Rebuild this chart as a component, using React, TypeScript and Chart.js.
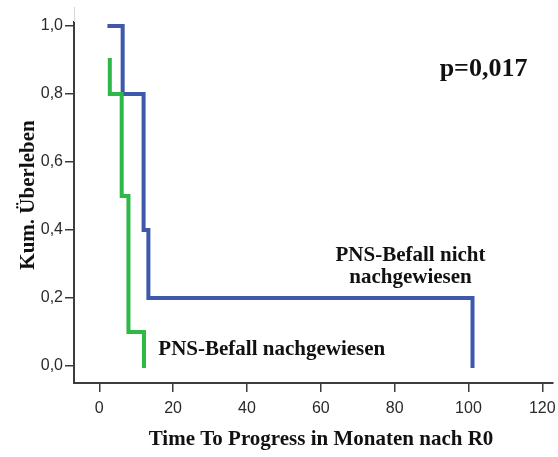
import React, { useEffect, useRef } from "react";
import { Chart, registerables } from "chart.js";

Chart.register(...registerables);

// Axis ticks
const xTickValues = [0, 20, 40, 60, 80, 100, 120];
const yTickValues = [0, 0.2, 0.4, 0.6, 0.8, 1.0];
const yTickLabels = ["0,0", "0,2", "0,4", "0,6", "0,8", "1,0"];

// Kaplan-Meier steps: time of each step (months) and survival after it
const notDetectedTimes = [2.75, 6.33, 12.0, 13.3, 101.1];
const notDetectedSurvival = [1.0, 0.8, 0.4, 0.2, 0.0];
const detectedTimes = [2.85, 2.85, 6.07, 7.9, 12.1];
const detectedSurvival = [0.9, 0.8, 0.5, 0.1, 0.0];

const groupLabels = ["PNS-Befall nachgewiesen", "PNS-Befall nicht nachgewiesen"];
const notDetectedLabelLines = ["PNS-Befall nicht", "nachgewiesen"];
const pValueText = "p=0,017";
const xAxisTitle = "Time To Progress in Monaten nach R0";
const yAxisTitle = "Kum. Überleben";

const BLUE = "#3e58ac";
const GREEN = "#2eb848";
const AXIS = "#3c3c3c";
const SERIF = "'Liberation Serif', 'Times New Roman', serif";
const SANS = "'Liberation Sans', Arial, sans-serif";

const toPoints = (xs: number[], ys: number[]) => xs.map((x, i) => ({ x, y: ys[i] }));

const annotations = {
  id: "kmAnnotations",
  afterDatasetsDraw(chart: any) {
    const { ctx, scales, chartArea } = chart;
    const xs = scales.x;
    const ys = scales.y;
    ctx.save();

    // faint extension of the y axis above the plot
    ctx.strokeStyle = "#d8d8d8";
    ctx.lineWidth = 1;
    ctx.beginPath();
    ctx.moveTo(chartArea.left + 0.5, 7);
    ctx.lineTo(chartArea.left + 0.5, chartArea.top);
    ctx.stroke();

    ctx.fillStyle = "#111";
    ctx.textBaseline = "middle";

    ctx.font = `bold 26px ${SERIF}`;
    ctx.textAlign = "left";
    ctx.fillText(pValueText, xs.getPixelForValue(92.2), ys.getPixelForValue(0.874));

    ctx.font = `bold 21px ${SERIF}`;
    ctx.textAlign = "center";
    ctx.fillText(notDetectedLabelLines[0], xs.getPixelForValue(84.3), ys.getPixelForValue(0.326));
    ctx.fillText(notDetectedLabelLines[1], xs.getPixelForValue(84.3), ys.getPixelForValue(0.259));

    ctx.textAlign = "left";
    ctx.fillText(groupLabels[0], xs.getPixelForValue(16.0), ys.getPixelForValue(0.047));

    // axis titles
    ctx.font = `bold 21px ${SERIF}`;
    ctx.textAlign = "center";
    ctx.fillText(xAxisTitle, 321, 440);

    ctx.translate(29, 195);
    ctx.rotate(-Math.PI / 2);
    ctx.fillText(yAxisTitle, 0, 0);

    ctx.restore();
  },
};

export default function App() {
  const canvasRef = useRef<HTMLCanvasElement | null>(null);

  useEffect(() => {
    document.body.style.margin = "0";
    const canvas = canvasRef.current;
    if (!canvas) return;

    const chart = new Chart(canvas, {
      type: "line",
      data: {
        datasets: [
          {
            label: groupLabels[0],
            data: toPoints(detectedTimes, detectedSurvival),
            borderColor: GREEN,
            borderWidth: 4,
            borderCapStyle: "square",
            borderJoinStyle: "miter",
            stepped: "before",
            pointRadius: 0,
            fill: false,
          },
          {
            label: groupLabels[1],
            data: toPoints(notDetectedTimes, notDetectedSurvival),
            borderColor: BLUE,
            borderWidth: 4,
            borderCapStyle: "square",
            borderJoinStyle: "miter",
            stepped: "before",
            pointRadius: 0,
            fill: false,
          },
        ],
      },
      options: {
        responsive: false,
        animation: false,
        events: [],
        layout: { padding: { top: 22, right: 5, left: 0, bottom: 0 } },
        plugins: {
          legend: { display: false },
          tooltip: { enabled: false },
        },
        scales: {
          x: {
            type: "linear",
            min: -6.85,
            max: 122.9,
            afterBuildTicks: (scale: any) => {
              scale.ticks = xTickValues.map((v) => ({ value: v }));
            },
            afterFit: (scale: any) => {
              scale.height = 74;
              scale.paddingLeft = 0;
              scale.paddingRight = 0;
            },
            grid: {
              display: true,
              drawOnChartArea: false,
              drawTicks: true,
              tickLength: 9,
              color: AXIS,
              lineWidth: 1.5,
            },
            border: { display: true, color: AXIS, width: 2 },
            ticks: {
              autoSkip: false,
              maxRotation: 0,
              padding: 7,
              color: "#2a2a2a",
              font: { family: SANS, size: 16 },
              callback: (value: any) => String(value),
            },
          },
          y: {
            type: "linear",
            min: -0.05,
            max: 1.0118,
            afterBuildTicks: (scale: any) => {
              scale.ticks = yTickValues.map((v) => ({ value: v }));
            },
            afterFit: (scale: any) => {
              scale.width = 74;
              scale.paddingTop = 0;
              scale.paddingBottom = 0;
            },
            grid: {
              display: true,
              drawOnChartArea: false,
              drawTicks: true,
              tickLength: 9,
              color: AXIS,
              lineWidth: 1.5,
            },
            border: { display: true, color: AXIS, width: 2 },
            ticks: {
              autoSkip: false,
              padding: 2,
              color: "#2a2a2a",
              font: { family: SANS, size: 16 },
              callback: (_value: any, index: number) => yTickLabels[index],
            },
          },
        },
      },
      plugins: [annotations],
    });

    return () => chart.destroy();
  }, []);

  return (
    <div style={{ width: 558, height: 457, background: "#fff" }}>
      <canvas ref={canvasRef} width={558} height={457} />
    </div>
  );
}
